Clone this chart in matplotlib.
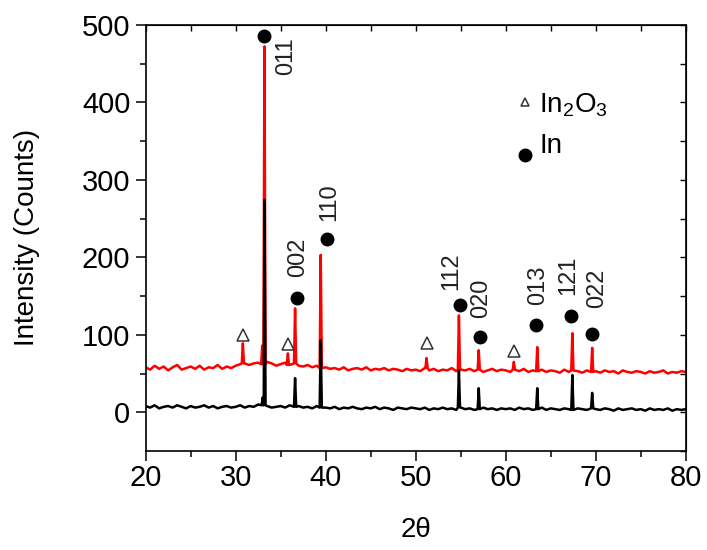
import numpy as np
import matplotlib
matplotlib.use("Agg")
import matplotlib.pyplot as plt

plt.rcParams['font.family'] = ['Liberation Sans', 'DejaVu Sans']
plt.rcParams['mathtext.fontset'] = 'custom'
plt.rcParams['mathtext.rm'] = 'Liberation Sans'

# baseline readings, 2theta = 20.0 .. 80.0 every 0.5 deg
red_base = [58, 55, 60, 56, 59, 54, 58, 61, 55, 57, 59, 56, 60, 55, 58, 57, 61, 56, 59, 57,
            60, 62, 63, 61, 63, 64, 62, 65, 63, 60, 62, 64, 61, 63, 60, 59, 61, 58, 60, 57,
            58, 56, 57, 55, 58, 54, 56, 57, 55, 58, 54, 56, 55, 57, 54, 56, 55, 53, 56, 54,
            55, 53, 57, 54, 56, 53, 55, 54, 57, 53, 55, 54, 56, 53, 55, 52, 54, 56, 53, 55,
            54, 52, 55, 53, 56, 52, 54, 53, 55, 52, 54, 53, 51, 55, 52, 54, 53, 51, 54, 52,
            53, 51, 54, 52, 53, 50, 54, 52, 51, 53, 52, 50, 53, 51, 52, 54, 50, 52, 51, 53,
            52]
black_base = [8, 6, 9, 5, 7, 8, 6, 9, 7, 5, 8, 6, 7, 9, 6, 8, 5, 7, 8, 6,
              7, 9, 6, 8, 7, 10, 9, 8, 6, 7, 8, 6, 9, 7, 8, 6, 7, 5, 8, 6,
              6, 5, 7, 4, 6, 5, 7, 5, 4, 6, 5, 7, 4, 6, 5, 3, 6, 5, 4, 6,
              5, 4, 6, 3, 5, 4, 6, 4, 5, 3, 6, 4, 5, 3, 4, 6, 4, 5, 3, 5,
              4, 5, 3, 6, 4, 5, 3, 4, 6, 3, 5, 4, 3, 5, 4, 3, 5, 4, 3, 5,
              4, 3, 5, 4, 2, 5, 3, 4, 5, 3, 4, 2, 5, 3, 4, 3, 5, 2, 4, 3,
              4]

# peaks: position (deg), top intensity
red_peak_pos = [30.8, 32.95, 33.2, 35.8, 36.6, 39.45, 51.2, 54.8, 57.0, 60.9, 63.5, 67.4, 69.6]
red_peak_top = [89, 86, 472, 76, 134, 203, 70, 125, 80, 65, 84, 102, 83]
black_peak_pos = [33.0, 33.2, 36.6, 39.45, 54.8, 57.0, 63.5, 67.4, 69.6]
black_peak_top = [19, 274, 44, 93, 54, 31, 31, 48, 25]

# In (filled circle) markers and hkl labels
in_x = [33.2, 36.8, 40.1, 54.9, 57.1, 63.4, 67.3, 69.6]
in_y = [485, 147, 223, 138, 97, 112, 124, 101]
hkl = ['011', '002', '110', '112', '020', '013', '121', '022']
hkl_x = [35.6, 36.9, 40.4, 54.0, 57.3, 63.6, 66.9, 70.2]
hkl_y = [459, 200, 271, 182, 147, 164, 177, 160]

# In2O3 (open triangle) markers
ox_x = [30.8, 35.8, 51.2, 60.9]
ox_y = [100, 88, 89, 79]


def build_trace(base, pos_list, top_list, hw=0.12):
    grid = 20 + 0.5 * np.arange(len(base))
    pts = [(g, b) for g, b in zip(grid, base)
           if all(abs(g - p) > hw for p in pos_list)]
    for p, t in zip(pos_list, top_list):
        foot = base[int(round((p - 20) / 0.5))]
        pts += [(p - hw, foot), (p, t), (p + hw, foot)]
    pts.sort()
    return np.array(pts).T


rx, ry = build_trace(red_base, red_peak_pos, red_peak_top)
bx, by = build_trace(black_base, black_peak_pos, black_peak_top)

fig = plt.figure(figsize=(7.07, 5.5), dpi=100)
ax = fig.add_axes([0.206, 0.18, 0.764, 0.775])

ax.plot(rx, ry, color='#ff0000', lw=1.8, zorder=2)
ax.plot(bx, by, color='black', lw=1.8, zorder=3)

ax.plot(in_x, in_y, 'o', color='black', ms=9, zorder=4)
ax.plot(ox_x, ox_y, '^', mfc='none', mec='#333333', mew=1.1, ms=8, zorder=4)
for t, x, y in zip(hkl, hkl_x, hkl_y):
    ax.text(x, y, t, rotation=90, ha='center', va='center', fontsize=17, color='#222222')

# legend drawn by hand
ax.plot([62.1], [400], '^', mfc='none', mec='#333333', mew=1.1, ms=5.5)
ax.plot([62.1], [332], 'o', color='black', ms=9)
ax.text(63.7, 387, r'In$_\mathregular{2}$O$_\mathregular{3}$', fontsize=20, va='baseline')
ax.text(63.7, 334, 'In', fontsize=20, va='baseline')

ax.set_xlim(20, 80)
ax.set_ylim(-50, 500)
ax.set_xticks(range(20, 81, 10))
ax.set_xticks(range(25, 80, 10), minor=True)
ax.set_yticks(range(0, 501, 100))
ax.set_yticks(range(50, 500, 100), minor=True)
ax.tick_params(which='major', direction='out', length=7, width=1.1, labelsize=21)
ax.tick_params(axis='y', which='major', pad=4)
ax.tick_params(axis='x', which='major', pad=2)
ax.tick_params(which='minor', direction='out', length=4, width=1.1)
for s in ax.spines.values():
    s.set_linewidth(1.2)

top = ax.secondary_xaxis('top')
top.set_xticks(range(20, 81, 5))
top.tick_params(direction='in', length=4, width=1, labeltop=False)
right = ax.secondary_yaxis('right')
right.set_yticks(range(-50, 501, 50))
right.tick_params(direction='in', length=4, width=1, labelright=False)

ax.set_xlabel('2\u03b8', fontsize=20)
ax.xaxis.set_label_coords(0.5, -0.155)
ax.set_ylabel('Intensity (Counts)', fontsize=20)
ax.yaxis.set_label_coords(-0.195, 0.5)

fig.savefig('out.png', dpi=100)
